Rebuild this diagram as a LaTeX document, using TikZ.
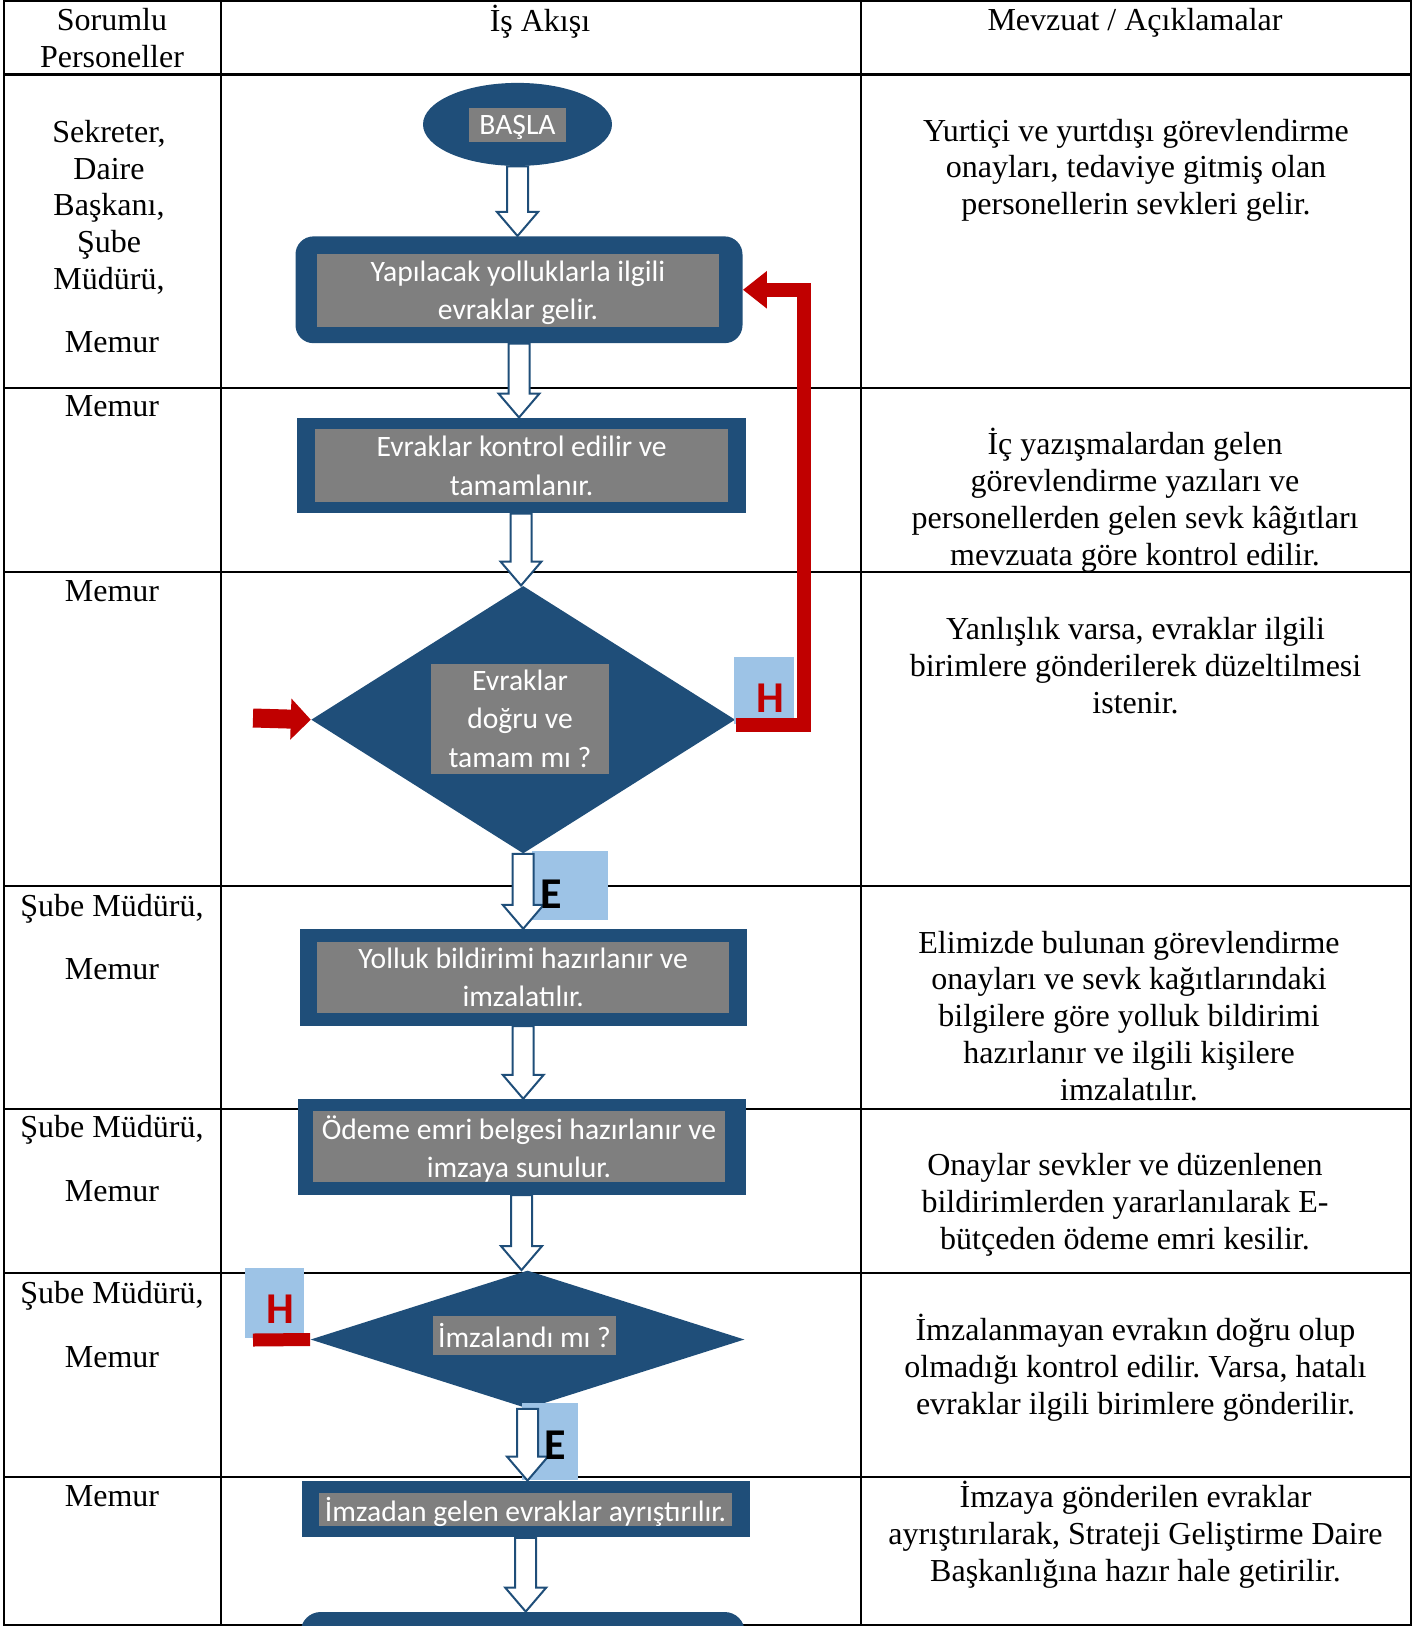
\documentclass[tikz,border=0pt]{standalone}
\usepackage{fontspec}
\setmainfont{Liberation Serif}
\newfontfamily\carlito{Carlito}
\usetikzlibrary{shapes.geometric,arrows.meta,calc}
\definecolor{koyu}{RGB}{31,78,121}
\definecolor{gri}{RGB}{127,127,127}
\definecolor{acik}{RGB}{157,195,230}
\definecolor{kirmizi}{RGB}{192,0,0}
\frenchspacing
\newcommand{\bosok}[2]{\draw[ok] let \p1=(#1.south), \p2=(#2.north) in (\x1-5.25pt,\y1) -- (\x1-5.25pt,\y2+12pt) -- (\x1-10.25pt,\y2+12pt) -- (\x1,\y2) -- (\x1+10.25pt,\y2+12pt) -- (\x1+5.25pt,\y2+12pt) -- (\x1+5.25pt,\y1) -- cycle;}

\begin{document}
\begin{tikzpicture}[x=0.5pt,y=-0.5pt,
  cizgi/.style={line width=1.1pt},
  yazi/.style={font=\fontsize{16}{18.4}\selectfont,align=center,inner sep=0pt},
  blok/.style={fill=koyu,inner sep=0pt},
  gritext/.style={fill=gri,text=white,font=\carlito\fontsize{14.8}{19.2}\selectfont,align=center,inner sep=0pt,text depth=0pt},
  kutu/.style={fill=acik,inner sep=0pt},
  harf/.style={font=\carlito\bfseries\fontsize{22}{22}\selectfont,inner sep=0pt},
  ok/.style={draw=koyu,fill=white,line width=1pt},
  kirmiziok/.style={draw=kirmizi,line width=8pt}]
\clip (0,0) rectangle (1427,1626);

\draw[cizgi] (4,1) rectangle (1411,1625);
\draw[cizgi] (221,1) -- (221,1626);
\draw[cizgi] (861,1) -- (861,1626);
\foreach \y in {74.5,388,572,886,1109,1273,1477} \draw[cizgi] (4,\y) -- (1411,\y);

\node[yazi] (h1) at (112,38.4) {Sorumlu\\Personeller};
\node[yazi] (h2) at (540,21.7) {İş Akışı};
\node[yazi] (h3) at (1135,22.7) {Mevzuat / Açıklamalar};

\node[yazi] (p1) at (109,207.3) {Sekreter,\\Daire\\Başkanı,\\Şube\\Müdürü,};
\node[yazi] (p1b) at (112,342.2) {Memur};
\node[yazi] (p2) at (112,406.5) {Memur};
\node[yazi] (p3) at (112,591) {Memur};
\node[yazi] (p4) at (112,908.3) {Şube Müdürü,};
\node[yazi] (p4b) at (112,969.6) {Memur};
\node[yazi] (p5) at (112,1130.2) {Şube Müdürü,};
\node[yazi] (p5b) at (112,1191.5) {Memur};
\node[yazi] (p6) at (112,1296.1) {Şube Müdürü,};
\node[yazi] (p6b) at (112,1357.4) {Memur};
\node[yazi] (p7) at (112,1496.4) {Memur};

\node[yazi] (m1) at (1136,170.3) {Yurtiçi ve yurtdışı görevlendirme\\onayları, tedaviye gitmiş olan\\personellerin sevkleri gelir.};
\node[yazi] (m2) at (1135,500.3) {İç yazışmalardan gelen\\görevlendirme yazıları ve\\personellerden gelen sevk kâğıtları\\mevzuata göre kontrol edilir.};
\node[yazi] (m3) at (1135.5,665.8) {Yanlışlık varsa, evraklar ilgili\\birimlere gönderilerek düzeltilmesi\\istenir.};
\node[yazi] (m4) at (1129,1015.8) {Elimizde bulunan görevlendirme\\onayları ve sevk kağıtlarındaki\\bilgilere göre yolluk bildirimi\\hazırlanır ve ilgili kişilere\\imzalatılır.};
\node[yazi] (m5) at (1125,1204.5) {Onaylar sevkler ve düzenlenen\\bildirimlerden yararlanılarak E-\\bütçeden ödeme emri kesilir.};
\node[yazi] (m6) at (1135.5,1367.6) {İmzalanmayan evrakın doğru olup\\olmadığı kontrol edilir. Varsa, hatalı\\evraklar ilgili birimlere gönderilir.};
\node[yazi] (m7) at (1135.5,1534.5) {İmzaya gönderilen evraklar\\ayrıştırılarak, Strateji Geliştirme Daire\\Başkanlığına hazır hale getirilir.};

\node[blok,ellipse,minimum width=94.5pt,minimum height=41.5pt] (basla) at (517.5,124.4) {};
\node[blok,rounded corners=9pt,minimum width=223.5pt,minimum height=53.4pt] (yol) at (519,289.8) {};
\node[blok,minimum width=224.5pt,minimum height=47.7pt] (kontrol) at (521,465.6) {};
\node[blok,diamond,minimum width=212pt,minimum height=133.8pt] (soru1) at (523.2,719.7) {};
\node[blok,minimum width=223.5pt,minimum height=48.2pt] (bildirim) at (523.2,977.4) {};
\node[blok,minimum width=224pt,minimum height=47.7pt] (odeme) at (521.5,1146.9) {};
\node[blok,diamond,minimum width=217pt,minimum height=69pt] (soru2) at (527.5,1339.5) {};
\node[blok,minimum width=224pt,minimum height=28.2pt] (ayris) at (525.7,1509.2) {};
\node[blok,rounded corners=10pt,minimum width=222pt,minimum height=48pt] (son) at (522.7,1660) {};

\node[kutu,minimum width=30pt,minimum height=33.5pt] (hayir1) at (763.6,690.5) {};
\node[kutu,minimum width=29.7pt,minimum height=35.3pt] (hayir2) at (274.2,1303) {};
\node[kutu,minimum width=37.9pt,minimum height=34.5pt] (evet1) at (569.9,885.5) {};
\node[kutu,minimum width=28.4pt,minimum height=38.7pt] (evet2) at (550,1441.4) {};

\bosok{basla}{yol}
\bosok{yol}{kontrol}
\bosok{kontrol}{soru1}
\bosok{soru1}{bildirim}
\bosok{bildirim}{odeme}
\bosok{odeme}{soru2}
\bosok{soru2}{ayris}
\bosok{ayris}{son}

\node[gritext,minimum width=48.75pt,minimum height=17pt] (basla-t) at (517.5,125) {BAŞLA};
\node[gritext,minimum width=200.6pt,minimum height=36.3pt] (yol-t) at (518,290.4) {Yapılacak yolluklarla ilgili\\evraklar gelir.};
\node[gritext,minimum width=206.4pt,minimum height=36.3pt] (kontrol-t) at (521.6,465.6) {Evraklar kontrol edilir ve\\tamamlanır.};
\node[gritext,minimum width=88.6pt,minimum height=55pt] (soru1-t) at (520,718.6) {Evraklar\\doğru ve\\tamam mı ?};
\node[gritext,minimum width=205.9pt,minimum height=35.8pt] (bildirim-t) at (523.2,977.4) {Yolluk bildirimi hazırlanır ve\\imzalatılır.};
\node[gritext,minimum width=205.9pt,minimum height=35.8pt] (odeme-t) at (519,1146.4) {Ödeme emri belgesi hazırlanır ve\\imzaya sunulur.};
\node[gritext,minimum width=91.3pt,minimum height=19.3pt] (soru2-t) at (524.5,1335.3) {İmzalandı mı ?};
\node[gritext,minimum width=206.3pt,minimum height=16.2pt] (ayris-t) at (525.5,1509.5) {İmzadan gelen evraklar ayrıştırılır.};

\node[harf,text=kirmizi] (h-1) at (770.6,698.5) {H};
\node[harf,text=kirmizi] (h-2) at (280.7,1309.5) {H};
\node[harf] (e-1) at (551.5,894) {E};
\node[harf] (e-2) at (554.9,1445.5) {E};

\coordinate (giris) at (253,718);
\coordinate (bar) at (253,1340);
\draw[kirmiziok,line width=9.5pt,-{Triangle[length=10pt,width=20pt]}] (giris) -- (soru1.west);
\draw[kirmiziok,line width=7pt,-{Triangle[length=12pt,width=18pt]}] ([yshift=-2.8pt]soru1.east) -- ++(68.5,0) |- (yol.east);
\draw[kirmiziok,line width=6.5pt] (soru2.west) -- (bar);
\end{tikzpicture}
\end{document}
